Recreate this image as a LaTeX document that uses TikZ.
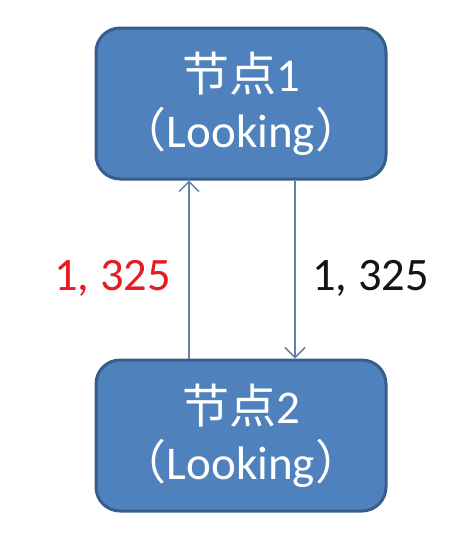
\documentclass[tikz,border=0pt]{standalone}
\usepackage{fontspec}
\setmainfont{Carlito}
\newfontfamily\cjk{Noto Sans CJK SC}
\usetikzlibrary{arrows.meta}
\definecolor{boxfill}{RGB}{79,129,189}
\definecolor{boxline}{RGB}{56,93,138}
\definecolor{arrcol}{RGB}{98,130,168}
\definecolor{lblred}{RGB}{230,28,36}
\definecolor{lblblack}{RGB}{20,20,20}
\tikzset{
  nodebox/.style={draw=boxline, line width=3pt, fill=boxfill, rounded corners=24pt,
    minimum width=290pt, minimum height=151pt, inner sep=0pt, align=center,
    text=white, font=\fontsize{47}{56}\selectfont},
  conn/.style={draw=arrcol, line width=1.5pt, -{Straight Barb[length=10pt,width=20pt,line width=1.5pt]}},
  numlbl/.style={font=\fontsize{46.5}{54}\selectfont, anchor=base, inner sep=0pt}
}
\begin{document}
\begin{tikzpicture}[x=1pt,y=-1pt]
\useasboundingbox (0,0) rectangle (470,550);
\fill[white] (0,0) rectangle (470,550);
\node[nodebox] (n1) at (241,103.5) {{\cjk 节点}1\\{\cjk （}Looking{\cjk ）}};
\node[nodebox] (n2) at (241,435.5) {{\cjk 节点}2\\{\cjk （}Looking{\cjk ）}};
\draw[conn] ([xshift=-52pt]n2.north) -- ([xshift=-52pt]n1.south);
\draw[conn] ([xshift=54pt]n1.south) -- ([xshift=54pt]n2.north);
\node[numlbl, text=lblred] (l1) at (112.5,290) {1, 325};
\node[numlbl, text=lblblack] (l2) at (370.5,290) {1, 325};
\end{tikzpicture}
\end{document}
